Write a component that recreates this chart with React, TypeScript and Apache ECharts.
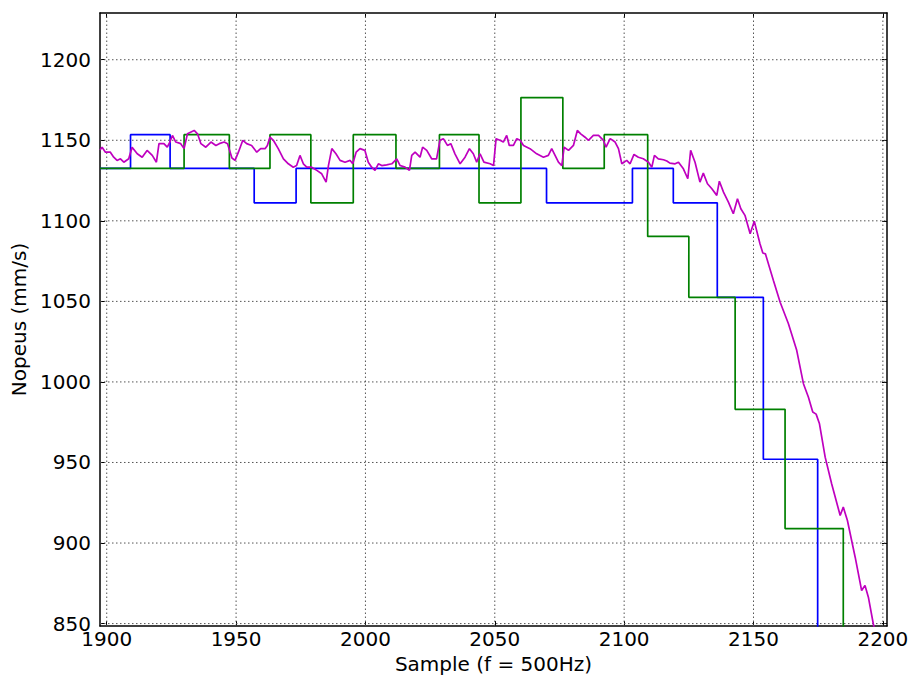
import React, { useEffect, useRef } from "react";
import * as echarts from "echarts";

const xTicks = [1900, 1950, 2000, 2050, 2100, 2150, 2200];
const yTicks = [850, 900, 950, 1000, 1050, 1100, 1150, 1200];

const X_MIN = 1897.4;
const X_MAX = 2201.6;
const Y_MIN = 848.5;
const Y_MAX = 1229;

// step series: [sample where level starts, level]
const blueSteps: [number, number][] = [
  [1897.4, 1132.5], [1909.2, 1153.5], [1924.5, 1132.5], [1957.0, 1111.2],
  [1973.2, 1132.5], [2070.0, 1111.2], [2103.2, 1132.5], [2119.0, 1111.2],
  [2136.0, 1052.5], [2153.8, 952], [2174.8, 800], [2201.6, 800],
];

const greenSteps: [number, number][] = [
  [1897.4, 1132.5], [1929.9, 1153.5], [1947.4, 1132.5], [1963.1, 1153.5],
  [1978.9, 1111.2], [1995.3, 1153.5], [2011.8, 1132.5], [2028.6, 1153.5],
  [2043.9, 1111.2], [2060.1, 1176.5], [2076.3, 1132.5], [2092.3, 1153.5],
  [2109.1, 1090.3], [2125.0, 1052.5], [2142.9, 983], [2162.2, 909],
  [2184.7, 800], [2201.6, 800],
];

const magentaPoints: [number, number][] = [
  [1897.4, 1144], [1898.2, 1145.7], [1899.5, 1142.6], [1901.4, 1142.6], [1902.7, 1139.5],
  [1904.0, 1137.5], [1905.3, 1138.5], [1906.6, 1136.4], [1908.5, 1138.5], [1909.8, 1145.7],
  [1911.8, 1141.6], [1913.7, 1139.5], [1915.6, 1143.7], [1917.6, 1140.6], [1919.2, 1136.4],
  [1920.2, 1147.9], [1922.1, 1147.9], [1923.4, 1145.7], [1924.4, 1148.9], [1925.4, 1153],
  [1926.7, 1148.9], [1928.6, 1147.9], [1929.9, 1144.8], [1931.2, 1154], [1933.8, 1156.1],
  [1935.1, 1154], [1936.4, 1147.9], [1938.3, 1145.7], [1940.3, 1148.9], [1942.2, 1146.8],
  [1943.5, 1147.9], [1945.4, 1148.9], [1946.7, 1147.9], [1948.4, 1139], [1949.6, 1137.5],
  [1950.9, 1142.6], [1952.6, 1150], [1954.1, 1147.9], [1956.0, 1146.8], [1958.0, 1142.6],
  [1959.5, 1144.8], [1961.2, 1144.8], [1962.1, 1146.8], [1963.1, 1152], [1964.4, 1150],
  [1966.3, 1144.8], [1968.3, 1138.5], [1970.2, 1135.4], [1972.1, 1133.3], [1973.4, 1134.3],
  [1974.7, 1140.6], [1976.0, 1135.4], [1977.3, 1133.3], [1979.2, 1133.3], [1981.2, 1131.3],
  [1983.1, 1129.2], [1984.8, 1124], [1985.7, 1134.3], [1987.0, 1144.8], [1988.6, 1141.6],
  [1990.2, 1137.5], [1992.1, 1136.4], [1994.1, 1137.5], [1995.1, 1135.4], [1996.4, 1142.6],
  [1997.9, 1144.8], [1999.8, 1143.7], [2001.1, 1136.4], [2002.4, 1133.3], [2003.7, 1131.3],
  [2005.0, 1135.4], [2006.3, 1134.3], [2008.2, 1134.7], [2010.2, 1135.4], [2012.1, 1138.5],
  [2013.4, 1134.3], [2015.3, 1133.3], [2017.0, 1131.3], [2017.9, 1140.6], [2019.2, 1142.6],
  [2021.1, 1139.5], [2022.1, 1145.7], [2023.7, 1143.7], [2025.6, 1138.5], [2027.5, 1138.5],
  [2028.8, 1150], [2030.1, 1151], [2031.7, 1146.8], [2033.0, 1147.9], [2034.6, 1141.6],
  [2036.6, 1135.4], [2038.5, 1139.5], [2040.2, 1144.8], [2041.7, 1141.6], [2043.0, 1136.4],
  [2044.3, 1141.6], [2045.8, 1136.4], [2048.2, 1135.4], [2049.5, 1134.3], [2050.5, 1151],
  [2052.0, 1150], [2053.3, 1148.9], [2054.6, 1153], [2055.6, 1146.8], [2057.2, 1146.8],
  [2058.5, 1151], [2059.8, 1150], [2061.1, 1146.8], [2063.6, 1144.8], [2066.2, 1141.6],
  [2068.8, 1139.5], [2070.7, 1140.6], [2072.0, 1144.8], [2073.3, 1140.6], [2074.6, 1136.4],
  [2075.9, 1134.3], [2076.8, 1145.7], [2078.5, 1143.7], [2080.4, 1146.8], [2081.9, 1156.1],
  [2083.2, 1154], [2084.9, 1151.9], [2086.2, 1150], [2088.1, 1153], [2090.1, 1153],
  [2092.0, 1150], [2093.0, 1145.7], [2094.6, 1151], [2096.5, 1148.9], [2097.8, 1144.8],
  [2099.1, 1135.4], [2101.0, 1137.5], [2102.3, 1135.4], [2103.8, 1141.2], [2105.5, 1139.5],
  [2107.4, 1138.5], [2109.4, 1136.4], [2110.7, 1133.3], [2111.7, 1140.6], [2113.2, 1138.5],
  [2115.2, 1137.9], [2116.5, 1137.1], [2117.7, 1135.8], [2119.7, 1135.4], [2121.0, 1136.4],
  [2122.9, 1132.3], [2124.6, 1126.1], [2125.7, 1143.7], [2127.4, 1136.4], [2129.3, 1124],
  [2130.6, 1129.6], [2132.2, 1123], [2133.9, 1119.9], [2135.8, 1115.8], [2136.8, 1124.6],
  [2138.4, 1117.8], [2140.3, 1111.6], [2142.2, 1104.4], [2143.8, 1113.7], [2145.1, 1107.5],
  [2146.7, 1103.4], [2148.7, 1092], [2150.3, 1099.8], [2152.5, 1085.8], [2153.6, 1080],
  [2154.6, 1079.5], [2157.7, 1063], [2160.3, 1049.5], [2163.5, 1036.1], [2166.7, 1019.6],
  [2169.3, 998.9], [2171.2, 990.6], [2172.9, 981.3], [2174.2, 980], [2175.5, 974],
  [2177.7, 953.3], [2180.2, 936.8], [2183.5, 917.1], [2184.7, 922.3], [2186.3, 914],
  [2189.3, 891.2], [2191.8, 870.5], [2193.1, 873.7], [2194.4, 866.4], [2196.3, 849.9],
  [2199.0, 830],
];

const FONT = "DejaVu Sans";
const FS = 20;

export default function App() {
  const ref = useRef<HTMLDivElement>(null);

  useEffect(() => {
    document.body.style.margin = "0";
    if (!ref.current) return;
    const chart = echarts.init(ref.current, undefined, { renderer: "svg" });

    const gridLineStyle = { color: "#555", width: 1, type: [1.5, 2.5] as number[] };
    const gridSeries: any[] = [
      ...xTicks.map((t) => ({
        type: "line",
        data: [[t, Y_MIN], [t, Y_MAX]],
        symbol: "none",
        silent: true,
        z: 1,
        lineStyle: gridLineStyle,
      })),
      ...yTicks.map((t) => ({
        type: "line",
        data: [[X_MIN, t], [X_MAX, t]],
        symbol: "none",
        silent: true,
        z: 1,
        lineStyle: gridLineStyle,
      })),
    ];

    const frameLine = { show: true, onZero: false, lineStyle: { color: "#000", width: 1.5 } };
    const tick = (vals: number[]) => ({
      show: true,
      inside: true,
      length: 5,
      customValues: vals,
      lineStyle: { color: "#000", width: 1 },
    });
    const plain = (v: number) => String(v);

    chart.setOption({
      animation: false,
      backgroundColor: "#fff",
      grid: { left: 100, right: 25, top: 13, bottom: 54, containLabel: false },
      xAxis: [
        {
          type: "value",
          position: "bottom",
          min: X_MIN,
          max: X_MAX,
          axisLine: frameLine,
          axisTick: tick(xTicks),
          axisLabel: {
            customValues: xTicks,
            formatter: plain,
            color: "#000",
            fontSize: FS,
            fontFamily: FONT,
            margin: 3,
          },
          splitLine: { show: false },
          name: "Sample (f = 500Hz)",
          nameLocation: "middle",
          nameGap: 26,
          nameTextStyle: { color: "#000", fontSize: FS, fontFamily: FONT },
        },
        {
          type: "value",
          position: "top",
          min: X_MIN,
          max: X_MAX,
          axisLine: frameLine,
          axisTick: tick(xTicks),
          axisLabel: { show: false },
          splitLine: { show: false },
        },
      ],
      yAxis: [
        {
          type: "value",
          position: "left",
          min: Y_MIN,
          max: Y_MAX,
          axisLine: frameLine,
          axisTick: tick(yTicks),
          axisLabel: {
            customValues: yTicks,
            formatter: plain,
            color: "#000",
            fontSize: FS,
            fontFamily: FONT,
            margin: 9,
          },
          splitLine: { show: false },
          name: "Nopeus (mm/s)",
          nameLocation: "middle",
          nameGap: 68,
          nameTextStyle: { color: "#000", fontSize: FS, fontFamily: FONT },
        },
        {
          type: "value",
          position: "right",
          min: Y_MIN,
          max: Y_MAX,
          axisLine: frameLine,
          axisTick: tick(yTicks),
          axisLabel: { show: false },
          splitLine: { show: false },
        },
      ],
      series: [
        ...gridSeries,
        {
          type: "line",
          name: "blue",
          data: blueSteps,
          step: "end",
          symbol: "none",
          z: 3,
          lineStyle: { color: "#0000ff", width: 1.7 },
        },
        {
          type: "line",
          name: "green",
          data: greenSteps,
          step: "end",
          symbol: "none",
          z: 3,
          lineStyle: { color: "#008000", width: 1.7 },
        },
        {
          type: "line",
          name: "magenta",
          data: magentaPoints,
          symbol: "none",
          z: 3,
          lineStyle: { color: "#bf00bf", width: 1.7 },
        },
      ],
    });

    return () => chart.dispose();
  }, []);

  return <div ref={ref} style={{ width: 912, height: 680 }} />;
}
